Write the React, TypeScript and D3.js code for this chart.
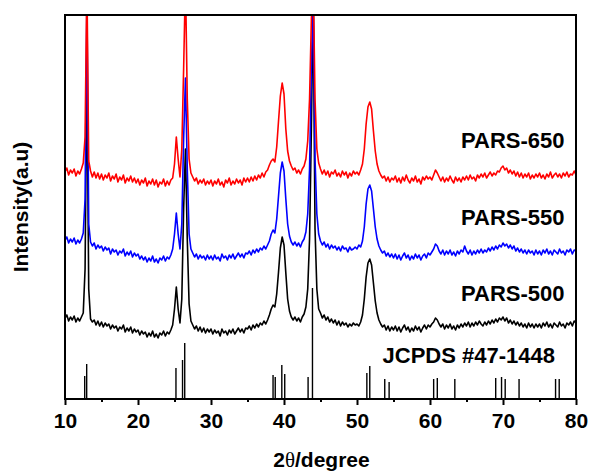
import { useEffect, useRef } from "react";
import * as d3 from "d3";

// XRD scans sampled every 0.25 degree from 10 to 80 (2-theta), arbitrary intensity units
const START_ANGLE = 10;
const STEP = 0.25;

const pars650 = [
  227, 231, 224, 229, 226, 230, 223, 228, 225, 230, 236, 262, 420, 238, 228, 222, 227, 221, 226, 220,
  225, 219, 224, 221, 226, 218, 223, 220, 225, 217, 222, 219, 224, 216, 221, 218, 223, 217, 221, 216,
  220, 214, 219, 216, 221, 213, 218, 215, 220, 214, 219, 212, 217, 215, 220, 213, 218, 214, 219, 221,
  235, 262, 240, 222, 250, 330, 420, 300, 240, 226, 222, 218, 221, 215, 219, 216, 220, 214, 218, 215,
  219, 213, 218, 215, 220, 214, 217, 212, 219, 216, 221, 214, 218, 215, 220, 216, 219, 214, 221, 217,
  221, 217, 222, 218, 223, 219, 224, 221, 226, 222, 227, 229, 234, 238, 240, 237, 252, 278, 303, 316,
  305, 270, 248, 238, 233, 229, 231, 226, 229, 225, 230, 233, 240, 258, 300, 380, 420, 300, 250, 236,
  230, 225, 229, 224, 228, 222, 227, 225, 229, 223, 226, 222, 228, 224, 227, 221, 226, 223, 228, 225,
  227, 224, 229, 235, 250, 275, 292, 297, 290, 268, 248, 235, 228, 224, 221, 223, 218, 222, 217, 221,
  219, 223, 217, 221, 216, 222, 218, 224, 219, 216, 221, 218, 223, 217, 220, 215, 222, 219, 223, 220,
  222, 219, 224, 229, 226, 222, 218, 222, 217, 221, 218, 223, 219, 216, 222, 218, 221, 217, 222, 219,
  223, 219, 224, 220, 222, 218, 224, 221, 225, 222, 226, 221, 224, 227, 223, 226, 224, 228, 227, 231,
  233, 229, 231, 226, 229, 225, 228, 223, 227, 222, 226, 221, 225, 222, 226, 220, 224, 221, 225, 222,
  226, 221, 224, 220, 225, 222, 227, 221, 224, 226, 222, 225, 221, 226, 223, 227, 222, 225, 224, 228,
  224,
];

const pars550 = [
  159, 162, 156, 160, 157, 161, 155, 159, 156, 160, 166, 200, 400, 175, 157, 153, 156, 150, 154, 151,
  153, 148, 152, 149, 151, 145, 150, 147, 149, 144, 148, 146, 150, 143, 147, 144, 148, 142, 146, 143,
  145, 140, 143, 139, 142, 137, 141, 138, 143, 137, 140, 136, 141, 139, 143, 138, 142, 140, 144, 150,
  165, 186, 165, 150, 175, 260, 321, 230, 165, 150, 146, 142, 145, 140, 144, 141, 143, 139, 144, 140,
  143, 139, 144, 140, 142, 138, 145, 141, 143, 139, 144, 141, 145, 140, 143, 146, 142, 145, 141, 146,
  145, 148, 144, 149, 146, 150, 147, 151, 149, 153, 150, 154, 158, 165, 169, 166, 180, 203, 226, 237,
  228, 200, 175, 163, 157, 154, 157, 153, 156, 152, 157, 160, 167, 185, 230, 330, 400, 240, 185, 165,
  158, 154, 157, 152, 155, 150, 154, 151, 153, 149, 152, 148, 153, 150, 151, 147, 152, 149, 150, 152,
  150, 154, 152, 158, 172, 195, 210, 214, 208, 190, 172, 160, 153, 149, 146, 148, 143, 146, 142, 145,
  141, 145, 140, 144, 139, 143, 146, 141, 144, 139, 143, 140, 145, 141, 144, 139, 143, 145, 141, 146,
  144, 147, 150, 155, 153, 148, 145, 149, 144, 148, 145, 149, 144, 147, 143, 148, 145, 149, 147, 153,
  148, 145, 149, 144, 148, 145, 149, 146, 150, 146, 149, 147, 151, 148, 152, 149, 153, 150, 154, 152,
  156, 153, 155, 151, 154, 150, 153, 148, 151, 147, 150, 146, 149, 145, 149, 146, 148, 144, 149, 145,
  148, 144, 149, 146, 150, 145, 148, 144, 149, 147, 145, 150, 146, 148, 144, 149, 147, 150, 145, 149,
  148,
];

const pars500 = [
  81, 84, 78, 82, 79, 83, 77, 81, 78, 82, 86, 130, 330, 110, 80, 77, 79, 74, 78, 73,
  77, 72, 76, 73, 75, 70, 74, 71, 73, 68, 72, 70, 74, 67, 71, 68, 72, 66, 70, 67,
  69, 64, 68, 65, 67, 62, 66, 63, 68, 62, 65, 61, 66, 64, 68, 63, 67, 65, 69, 74,
  90, 112, 90, 76, 100, 190, 250, 160, 95, 78, 74, 70, 73, 68, 72, 67, 71, 66, 70, 67,
  70, 65, 69, 66, 68, 63, 70, 66, 68, 64, 69, 66, 70, 65, 68, 71, 67, 70, 66, 71,
  70, 73, 69, 74, 71, 75, 72, 76, 74, 78, 75, 79, 84, 90, 94, 92, 105, 127, 151, 162,
  154, 126, 100, 88, 82, 79, 82, 78, 81, 77, 82, 85, 92, 110, 160, 270, 400, 170, 110, 90,
  86, 81, 84, 79, 82, 77, 80, 76, 79, 74, 78, 73, 77, 74, 76, 72, 75, 73, 76, 74,
  75, 73, 77, 84, 100, 122, 136, 140, 134, 116, 98, 86, 79, 75, 72, 74, 69, 73, 68, 72,
  69, 73, 68, 72, 67, 71, 74, 69, 72, 67, 71, 68, 73, 69, 72, 67, 71, 74, 70, 74,
  72, 75, 77, 81, 79, 75, 72, 75, 70, 74, 71, 75, 70, 73, 69, 74, 71, 75, 72, 76,
  73, 77, 72, 76, 73, 77, 74, 78, 75, 73, 77, 74, 78, 75, 79, 76, 80, 77, 81, 79,
  82, 78, 81, 76, 79, 75, 78, 74, 77, 73, 76, 72, 75, 71, 76, 72, 75, 71, 75, 72,
  75, 71, 76, 73, 77, 72, 75, 71, 76, 74, 72, 77, 73, 75, 71, 76, 74, 77, 73, 78,
  76,
];

// JCPDS #47-1448 reference lines
const refAngles = [12.7, 12.97, 25.2, 26.1, 26.4, 38.5, 38.8, 39.7, 40.1, 43.3, 43.9, 51.35, 51.75, 53.8, 54.4, 60.5, 61.0, 63.4, 69.0, 69.8, 70.3, 72.2, 77.2, 77.7];
const refIntensity = [23, 35, 31, 39, 56, 24, 22, 34, 25, 22, 111, 26, 33, 20, 17, 20, 21, 20, 21, 22, 20, 20, 20, 20];

const seriesNames = ["PARS-500", "PARS-550", "PARS-650"];
const seriesColors = ["#000000", "#0000ff", "#ff0000"];
const seriesValues = [pars500, pars550, pars650];
const labelY = [98, 174, 251]; // intensity level of each sample label
const refLabel = "JCPDS #47-1448";

const xTicks = [10, 20, 30, 40, 50, 60, 70, 80];
const xMinorTicks = [15, 25, 35, 45, 55, 65, 75];

const W = 589, H = 472;
const margin = { top: 15, right: 13, bottom: 73, left: 65 };
const FONT = "Arial, 'Liberation Sans', sans-serif";

export default function App() {
  const ref = useRef<SVGSVGElement>(null);

  useEffect(() => {
    const svg = d3.select(ref.current);
    svg.selectAll("*").remove();

    const x = d3.scaleLinear().domain([10, 80]).range([margin.left, W - margin.right]);
    const y = d3.scaleLinear().domain([0, 384]).range([H - margin.bottom, margin.top]);

    svg.append("defs").append("clipPath").attr("id", "plot")
      .append("rect")
      .attr("x", x(10)).attr("y", y(384))
      .attr("width", x(80) - x(10)).attr("height", y(0) - y(384));

    const plot = svg.append("g").attr("clip-path", "url(#plot)");

    // reference sticks
    plot.selectAll(".stick")
      .data(refAngles)
      .enter().append("line")
      .attr("x1", d => x(d)).attr("x2", d => x(d))
      .attr("y1", y(0))
      .attr("y2", (_, i) => y(refIntensity[i]))
      .attr("stroke", "#000")
      .attr("stroke-width", 1.4);

    const line = d3.line<number>()
      .x((_, i) => x(START_ANGLE + i * STEP))
      .y(d => y(d));

    seriesValues.forEach((vals, k) => {
      plot.append("path")
        .attr("d", line(vals))
        .attr("fill", "none")
        .attr("stroke", seriesColors[k])
        .attr("stroke-width", 1.6)
        .attr("stroke-linejoin", "round");
    });

    // frame
    svg.append("rect")
      .attr("x", x(10)).attr("y", y(384))
      .attr("width", x(80) - x(10)).attr("height", y(0) - y(384))
      .attr("fill", "none").attr("stroke", "#000").attr("stroke-width", 2);

    // x axis
    const xa = svg.append("g")
      .attr("transform", `translate(0,${y(0)})`)
      .call(d3.axisBottom(x).tickValues(xTicks).tickSize(6).tickPadding(8).tickFormat(d3.format("d")));
    xa.select(".domain").remove();
    xa.selectAll("line").attr("stroke", "#000").attr("stroke-width", 2);
    xa.selectAll("text")
      .attr("fill", "#000")
      .style("font-family", FONT)
      .style("font-size", "21px")
      .style("font-weight", "bold");

    const xm = svg.append("g")
      .attr("transform", `translate(0,${y(0)})`)
      .call(d3.axisBottom(x).tickValues(xMinorTicks).tickSize(3).tickFormat(() => ""));
    xm.select(".domain").remove();
    xm.selectAll("line").attr("stroke", "#000").attr("stroke-width", 2);

    // sample labels
    seriesNames.forEach((name, k) => {
      svg.append("text")
        .attr("x", x(64.25)).attr("y", y(labelY[k]))
        .style("font-family", FONT).style("font-size", "22px").style("font-weight", "bold")
        .text(name);
    });
    svg.append("text")
      .attr("x", x(53.5)).attr("y", y(36))
      .style("font-family", FONT).style("font-size", "22px").style("font-weight", "bold")
      .text(refLabel);

    // axis titles
    svg.append("text")
      .attr("transform", `translate(28,${(y(0) + y(384)) / 2}) rotate(-90)`)
      .attr("text-anchor", "middle")
      .style("font-family", FONT).style("font-size", "21px").style("font-weight", "bold")
      .text("Intensity(a.u)");

    const xt = svg.append("text")
      .attr("x", (x(10) + x(80)) / 2 + 1).attr("y", 467)
      .attr("text-anchor", "middle")
      .style("font-family", FONT).style("font-size", "21px").style("font-weight", "bold");
    xt.append("tspan").text("2");
    xt.append("tspan").style("font-family", "'Liberation Serif', 'Times New Roman', serif").style("font-weight", "normal").text("θ");
    xt.append("tspan").text("/degree");
  }, []);

  return (
    <svg ref={ref} width={W} height={H}
      style={{ position: "absolute", left: 0, top: 0, background: "#fff" }} />
  );
}
